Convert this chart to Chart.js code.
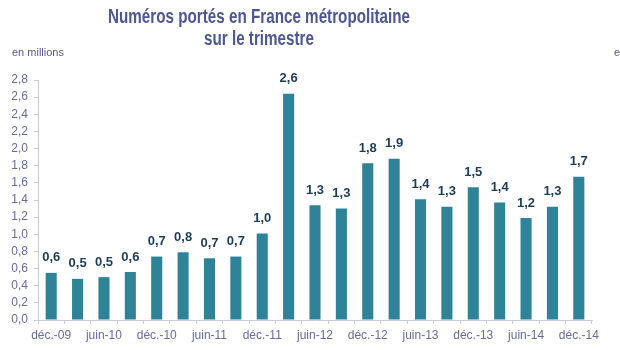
<!DOCTYPE html>
<html><head><meta charset="utf-8">
<script src="https://cdn.jsdelivr.net/npm/chart.js@4"></script>
<style>html,body{margin:0;padding:0;background:#fff}#w{width:620px;height:350px;position:relative}</style>
</head><body><div id="w"><canvas id="c"></canvas></div>
<script>
const categories = ["déc.-09","mars-10","juin-10","sept.-10","déc.-10","mars-11","juin-11","sept.-11","déc.-11","mars-12","juin-12","sept.-12","déc.-12","mars-13","juin-13","sept.-13","déc.-13","mars-14","juin-14","sept.-14","déc.-14"];
const values = [0.55,0.48,0.50,0.56,0.74,0.79,0.72,0.74,1.01,2.64,1.34,1.30,1.83,1.88,1.41,1.32,1.55,1.37,1.19,1.32,1.67];
const valueLabels = ["0,6","0,5","0,5","0,6","0,7","0,8","0,7","0,7","1,0","2,6","1,3","1,3","1,8","1,9","1,4","1,3","1,5","1,4","1,2","1,3","1,7"];
const titleLines = ["Numéros portés en France métropolitaine","sur le trimestre"];
const unitLabel = "en millions";

const FONT = "'Liberation Sans', Arial, sans-serif";
const extras = {
  id:'extras',
  afterDatasetsDraw(chart){
    const ctx = chart.ctx;
    const meta = chart.getDatasetMeta(0);
    ctx.save();
    ctx.font = "bold 13px " + FONT;
    ctx.fillStyle = "#1c3d5a";
    ctx.textAlign = "center";
    ctx.textBaseline = "middle";
    meta.data.forEach((bar,i)=>{ ctx.fillText(valueLabels[i], bar.x, bar.y - 15); });
    ctx.restore();
  },
  afterDraw(chart){
    const ctx = chart.ctx;
    ctx.save();
    ctx.font = "bold 20px 'Liberation Sans Narrow', 'Liberation Sans', Arial, sans-serif";
    ctx.fillStyle = "#4d5794";
    ctx.textAlign = "center";
    ctx.textBaseline = "middle";
    const w = ctx.measureText(titleLines[0]).width;
    const sx = Math.min(1, 302 / w);
    ctx.translate(259, 0);
    ctx.scale(sx, 1);
    ctx.fillText(titleLines[0], 0, 17);
    ctx.fillText(titleLines[1], 0, 39);
    ctx.restore();
    ctx.save();
    ctx.font = "11px " + FONT;
    ctx.fillStyle = "#5a5a85";
    ctx.textAlign = "left";
    ctx.textBaseline = "middle";
    ctx.fillText(unitLabel, 12, 53);
    ctx.fillText(unitLabel, 614, 53);
    ctx.restore();
  }
};

new Chart(document.getElementById('c'), {
  type:'bar',
  data:{labels:categories, datasets:[{data:values, backgroundColor:'#2e8398', barPercentage:0.42, categoryPercentage:1.0}]},
  options:{
    responsive:true, maintainAspectRatio:false, animation:false,
    devicePixelRatio:1,
    layout:{padding:{top:80,left:0,right:28,bottom:0}},
    plugins:{legend:{display:false}, tooltip:{enabled:false}, title:{display:false}},
    scales:{
      x:{
        grid:{display:true, drawOnChartArea:false, drawTicks:true, tickLength:4, color:'#c8ccd4', offset:true},
        border:{display:true, color:'#c8ccd4'},
        ticks:{autoSkip:false, maxRotation:0, color:'#6a6aa0', font:{family:FONT, size:12}, padding:4,
          callback:(v,i)=> i%2===0 ? categories[i] : ''},
        afterFit(s){ s.height = 30; }
      },
      y:{
        min:0, max:2.8,
        grid:{display:true, drawOnChartArea:false, drawTicks:true, tickLength:4, color:'#c8ccd4'},
        border:{display:true, color:'#c8ccd4'},
        ticks:{autoSkip:false, stepSize:0.2, color:'#6a6aa0', font:{family:FONT, size:12}, padding:6,
          callback:(v)=> v.toFixed(1).replace('.',',')},
        afterFit(s){ s.width = 38; }
      }
    }
  },
  plugins:[extras]
});
</script></body></html>
